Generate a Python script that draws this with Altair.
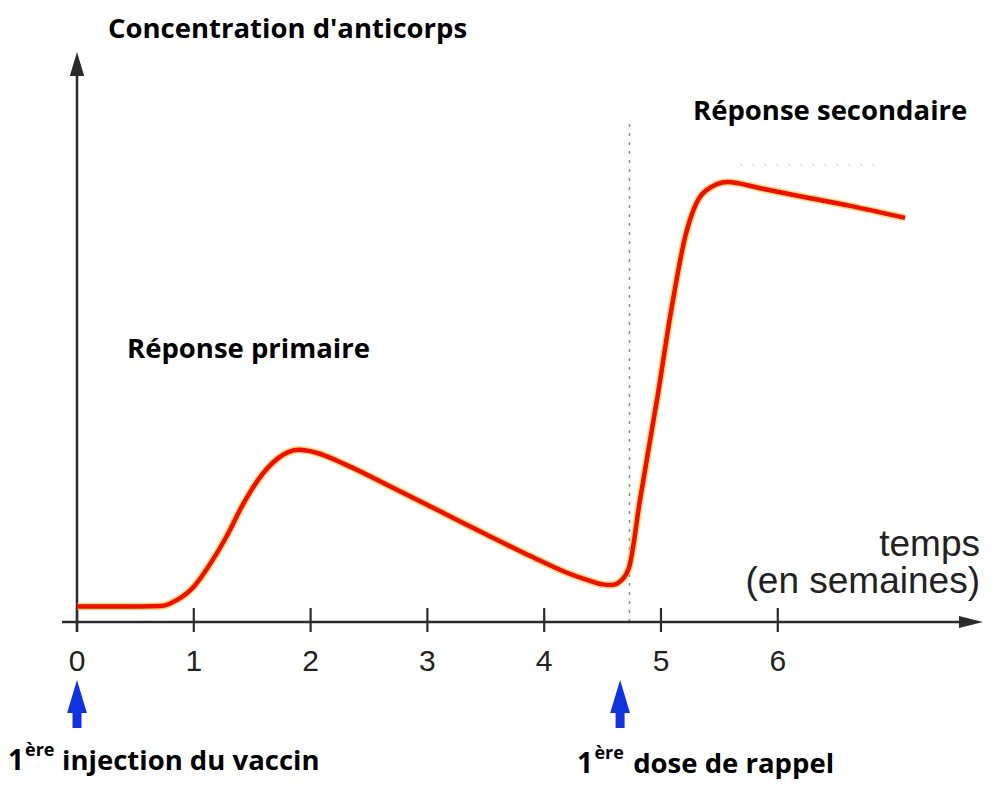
import altair as alt
import pandas as pd

# Antibody concentration curve (weeks, arbitrary units)
weeks = [0, 0.4, 0.72, 0.85, 1.0, 1.15, 1.28, 1.42, 1.56, 1.72, 1.90, 2.05, 2.3, 2.7,
         3.1, 3.5, 3.9, 4.2, 4.38, 4.5, 4.58, 4.66, 4.73, 4.82, 4.97, 5.09, 5.21,
         5.28, 5.38, 5.57, 5.85, 6.19, 6.62, 7.09]
conc = [2.7, 2.7, 2.8, 3.8, 6.2, 10.5, 15.0, 20.6, 25.2, 28.7, 30.2, 29.7, 27.6, 23.6,
        19.5, 15.4, 11.4, 8.6, 7.3, 6.6, 6.5, 7.3, 9.8, 21.4, 39.5, 55.0, 67.8,
        72.4, 75.6, 77.2, 76.1, 74.7, 73.0, 70.9]

tick_values = [0, 1, 2, 3, 4, 5, 6]
tick_labels = ["0", "1", "2", "3", "4", "5", "6"]
booster_week = 4.73
injection_weeks = [0, 4.65]

W, H = 975, 777
xs = alt.Scale(domain=[-0.5908, 7.757], zero=False, nice=False)
ys = alt.Scale(domain=[-28.596, 107.72], zero=False, nice=False)
X = lambda f="x": alt.X(f"{f}:Q", scale=xs, axis=None)
Y = lambda f="y": alt.Y(f"{f}:Q", scale=ys, axis=None)

curve = pd.DataFrame({"x": weeks, "y": conc})
halo = alt.Chart(curve).mark_line(color="#ffb000", strokeWidth=7.5, opacity=0.5,
                                   interpolate="monotone").encode(x=X(), y=Y())
line = alt.Chart(curve).mark_line(color="#ec1000", strokeWidth=4.5,
                                   interpolate="monotone").encode(x=X(), y=Y())

AX = "#2b2b2b"
xaxis = alt.Chart(pd.DataFrame({"x": [-0.128], "x2": [7.62], "y": [0]})).mark_rule(
    color=AX, strokeWidth=2.5).encode(x=X(), x2="x2:Q", y=Y())
yaxis = alt.Chart(pd.DataFrame({"x": [0], "y": [-1.75], "y2": [96.8]})).mark_rule(
    color=AX, strokeWidth=2.5).encode(x=X(), y=Y(), y2="y2:Q")
xhead = alt.Chart(pd.DataFrame({"x": [7.654], "y": [0]})).mark_point(
    shape="M1,0 L-1,-0.5 L-1,0.5 Z", size=576, filled=True, color=AX, opacity=1
).encode(x=X(), y=Y())
yhead = alt.Chart(pd.DataFrame({"x": [0], "y": [97.9]})).mark_point(
    shape="M0,-1 L-0.6,1 L0.6,1 Z", size=576, filled=True, color=AX, opacity=1
).encode(x=X(), y=Y())
ticks = alt.Chart(pd.DataFrame({"x": tick_values, "y": [-1.75] * 7, "y2": [2.46] * 7})).mark_rule(
    color=AX, strokeWidth=2.2).encode(x=X(), y=Y(), y2="y2:Q")
ticklab = alt.Chart(pd.DataFrame({"x": tick_values, "y": [-8.6] * 7, "t": tick_labels})).mark_text(
    font="Liberation Sans", fontSize=30, color="#222", align="center", baseline="alphabetic"
).encode(x=X(), y=Y(), text="t:N")

dotted = alt.Chart(pd.DataFrame({"x": [booster_week], "y": [0], "y2": [88.4]})).mark_rule(
    color="#8a8a8a", strokeWidth=1.5, strokeDash=[3, 6]).encode(x=X(), y=Y(), y2="y2:Q")
hdotted = alt.Chart(pd.DataFrame({"x": [5.68], "x2": [6.90], "y": [80.2]})).mark_rule(
    color="#d8d0d0", strokeWidth=1.2, strokeDash=[2, 10]).encode(x=X(), x2="x2:Q", y=Y())

BLUE = "#1033e0"
shafts = alt.Chart(pd.DataFrame({"x": injection_weeks, "y": [-18.6] * 2, "y2": [-14.7] * 2})).mark_rule(
    color=BLUE, strokeWidth=9).encode(x=X(), y=Y(), y2="y2:Q")
heads = alt.Chart(pd.DataFrame({"x": injection_weeks, "y": [-13.07] * 2})).mark_point(
    shape="M0,-1 L-0.6,1 L0.6,1 Z", size=1089, filled=True, color=BLUE, opacity=1
).encode(x=X(), y=Y())

BOLD = dict(font="Open Sans", fontWeight="bold", color="#000", baseline="alphabetic")
def text_layer(xv, yv, t, **kw):
    return alt.Chart(pd.DataFrame({"x": xv, "y": yv, "t": t})).mark_text(**kw).encode(
        x=X(), y=Y(), text="t:N")

titles = text_layer([0.265, 0.428, 5.274], [102.5, 46.3, 88.1],
                    ["Concentration d'anticorps", "Réponse primaire", "Réponse secondaire"],
                    align="left", fontSize=27.5, **BOLD)
one = text_layer([-0.59, 4.28], [-26.0, -26.5], ["1", "1"], align="left", fontSize=28, **BOLD)
ere = text_layer([-0.445, 4.43], [-23.5, -24.0], ["ère", "ère"], align="left", fontSize=18, **BOLD)
captions = text_layer([-0.128, 4.762], [-26.0, -26.5], ["injection du vaccin", "dose de rappel"],
                      align="left", fontSize=27.5, **BOLD)
xlabel = text_layer([7.731, 7.731], [11.58, 5.09], ["temps", "(en semaines)"],
                    align="right", fontSize=37, font="Liberation Sans", color="#222",
                    baseline="alphabetic")

chart = alt.layer(
    dotted, hdotted, xaxis, yaxis, xhead, yhead, ticks, ticklab, halo, line,
    shafts, heads, titles, one, ere, captions, xlabel
).properties(width=W, height=H, padding=0, autosize=alt.AutoSizeParams(type="none")
).configure_view(stroke=None)

chart.save("out.html", embed_options={"renderer": "svg", "actions": False})
